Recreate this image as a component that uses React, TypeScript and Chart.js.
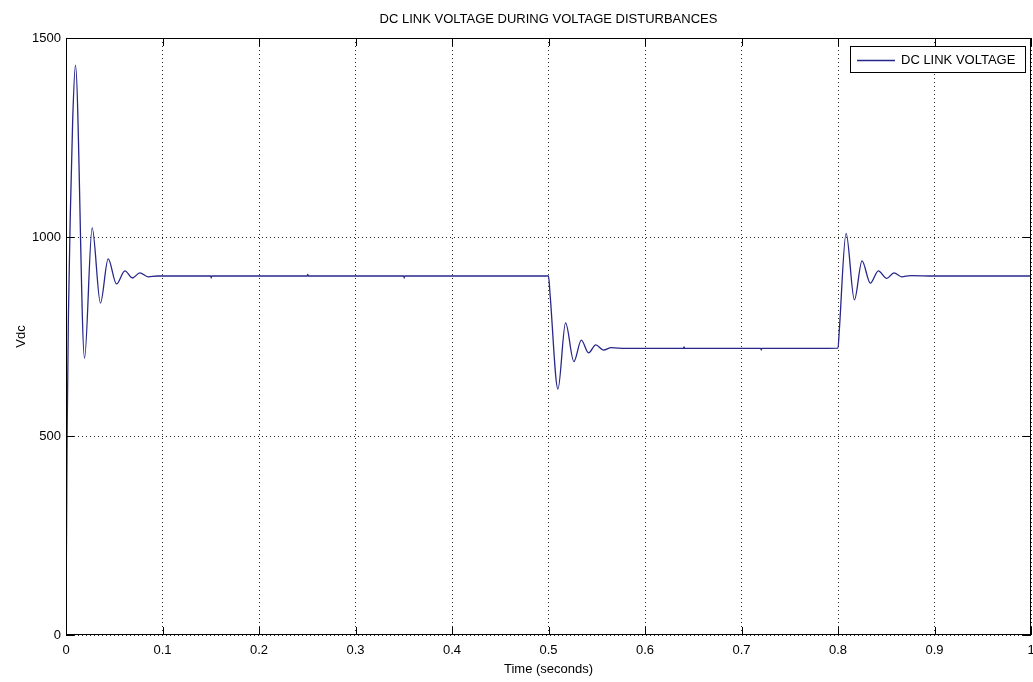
import React, { useEffect, useRef } from "react";
import { Chart, registerables } from "chart.js";

Chart.register(...registerables);

const chartTitle = "DC LINK VOLTAGE DURING VOLTAGE DISTURBANCES";
const seriesLabel = "DC LINK VOLTAGE";
const xAxisTitle = "Time (seconds)";
const yAxisTitle = "Vdc";

const xTickLabels = ["0", "0.1", "0.2", "0.3", "0.4", "0.5", "0.6", "0.7", "0.8", "0.9", "1"];
const yTickLabels = ["0", "500", "1000", "1500"];

// time (s) and DC link voltage (V)
const timeValues = [
  0, 0.0006, 0.0012, 0.0025, 0.0045, 0.007, 0.0098, 0.0192, 0.0271, 0.0357,
  0.0437, 0.0523, 0.061, 0.0689, 0.0765, 0.085, 0.095, 0.15, 0.1505, 0.151,
  0.25, 0.2505, 0.251, 0.35, 0.3505, 0.351, 0.5, 0.5015, 0.5098, 0.5177,
  0.5263, 0.534, 0.5415, 0.549, 0.557, 0.565, 0.58, 0.64, 0.6405, 0.641,
  0.72, 0.7205, 0.721, 0.8, 0.8012, 0.8084, 0.817, 0.8249, 0.8335, 0.8418,
  0.8505, 0.858, 0.866, 0.875, 0.9, 0.95, 1.0,
];
const voltageValues = [
  75, 265, 510, 800, 1060, 1300, 1432, 696, 1023, 834,
  945, 882, 915, 897, 910, 900, 902, 902, 897, 902,
  902, 906, 902, 902, 897, 902, 902, 860, 618, 784,
  687, 741, 709, 729, 716, 722, 720, 720, 724, 720,
  720, 716, 720, 721, 760, 1009, 842, 940, 884, 915,
  896, 910, 900, 903, 902, 902, 902,
];

const lineColor = "#27278a";

export default function App() {
  const canvasRef = useRef<HTMLCanvasElement | null>(null);

  useEffect(() => {
    if (!canvasRef.current) return;
    const points = timeValues.map((t, i) => ({ x: t, y: voltageValues[i] }));
    const font = { family: "'Liberation Sans', Arial, sans-serif", size: 13 };

    const framePlugin = {
      id: "frame",
      afterDraw(chart: any) {
        const { ctx, chartArea } = chart;
        const { left, right, top, bottom } = chartArea;
        const xs = chart.scales.x;
        const ys = chart.scales.y;
        ctx.save();
        ctx.strokeStyle = "#000";
        ctx.lineWidth = 1;
        ctx.setLineDash([]);
        ctx.strokeRect(Math.round(left) + 0.5, Math.round(top) + 0.5, Math.round(right - left) - 1, Math.round(bottom - top) - 1);
        const tl = 8;
        ctx.beginPath();
        xs.ticks.forEach((t: any) => {
          const px = Math.round(xs.getPixelForValue(t.value)) + 0.5;
          ctx.moveTo(px, bottom);
          ctx.lineTo(px, bottom - tl);
          ctx.moveTo(px, top);
          ctx.lineTo(px, top + tl);
        });
        ys.ticks.forEach((t: any) => {
          const py = Math.round(ys.getPixelForValue(t.value)) + 0.5;
          ctx.moveTo(left, py);
          ctx.lineTo(left + tl, py);
          ctx.moveTo(right, py);
          ctx.lineTo(right - tl, py);
        });
        ctx.stroke();

        // title
        ctx.fillStyle = "#000";
        ctx.font = `13px ${font.family}`;
        ctx.textAlign = "center";
        ctx.textBaseline = "middle";
        ctx.fillText(chartTitle, (left + right) / 2, 19);

        // legend
        const lx0 = 850, lx1 = 1026, ly0 = 46, ly1 = 73;
        ctx.fillStyle = "#fff";
        ctx.fillRect(lx0, ly0, lx1 - lx0, ly1 - ly0);
        ctx.strokeStyle = "#000";
        ctx.strokeRect(lx0 + 0.5, ly0 + 0.5, lx1 - lx0 - 1, ly1 - ly0 - 1);
        const ly = (ly0 + ly1) / 2;
        ctx.strokeStyle = lineColor;
        ctx.lineWidth = 1.3;
        ctx.beginPath();
        ctx.moveTo(857, Math.round(ly) + 0.5);
        ctx.lineTo(895, Math.round(ly) + 0.5);
        ctx.stroke();
        ctx.fillStyle = "#000";
        ctx.textAlign = "left";
        ctx.fillText(chart.data.datasets[0].label, 901, ly + 0.5);
        ctx.restore();
      },
    };

    const chart = new Chart(canvasRef.current, {
      type: "line",
      data: {
        datasets: [
          {
            label: seriesLabel,
            data: points,
            borderColor: lineColor,
            backgroundColor: lineColor,
            borderWidth: 1.3,
            pointRadius: 0,
            cubicInterpolationMode: "monotone",
            fill: false,
          },
        ],
      },
      options: {
        animation: false,
        responsive: false,
        maintainAspectRatio: false,
        devicePixelRatio: 1,
        layout: { padding: { top: 38, right: 2, left: 0, bottom: 0 } },
        plugins: {
          legend: { display: false },
          title: { display: false },
          tooltip: { enabled: false },
        },
        scales: {
          x: {
            type: "linear",
            min: 0,
            max: 1,
            afterFit: (s: any) => {
              s.height = 47;
              s.paddingLeft = 0;
              s.paddingRight = 0;
            },
            ticks: {
              stepSize: 0.1,
              autoSkip: false,
              maxRotation: 0,
              padding: 8,
              color: "#000",
              font,
              callback: (_v: any, i: number) => xTickLabels[i],
            },
            grid: { color: "rgba(0,0,0,0.85)", lineWidth: 1, drawTicks: false },
            border: { display: false, dash: [1, 3] },
            title: { display: true, text: xAxisTitle, color: "#000", font, padding: { top: 0, bottom: 5 } },
          },
          y: {
            min: 0,
            max: 1500,
            afterFit: (s: any) => {
              s.width = 66;
              s.paddingTop = 0;
              s.paddingBottom = 0;
            },
            ticks: {
              stepSize: 500,
              padding: 5,
              color: "#000",
              font,
              callback: (_v: any, i: number) => yTickLabels[i],
            },
            grid: { color: "rgba(0,0,0,0.85)", lineWidth: 1, drawTicks: false },
            border: { display: false, dash: [1, 3] },
            title: { display: true, text: yAxisTitle, color: "#000", font, padding: { top: 14, bottom: 0 } },
          },
        },
      },
      plugins: [framePlugin],
    });
    return () => chart.destroy();
  }, []);

  return (
    <div style={{ position: "fixed", left: 0, top: 0, width: 1033, height: 682, background: "#fff" }}>
      <canvas ref={canvasRef} width={1033} height={682} style={{ display: "block", width: 1033, height: 682 }} />
    </div>
  );
}
